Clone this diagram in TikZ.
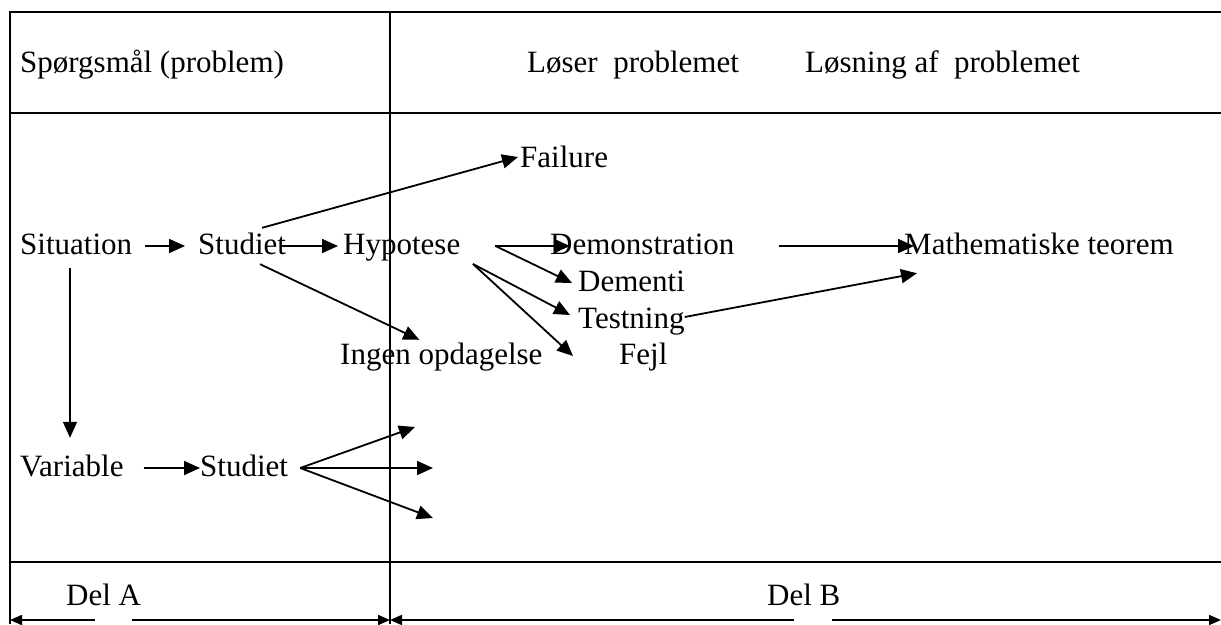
\documentclass[tikz,border=0pt]{standalone}
\usepackage{fontspec}
\setmainfont{Liberation Serif}
\usetikzlibrary{arrows.meta}

\tikzset{
  lbl/.style={anchor=base west, inner sep=0pt, text height=22pt, text depth=6pt},
  arr/.style={line width=1.8pt, -{Triangle[length=16pt,width=14pt]}},
  barr/.style={line width=1.8pt, -{Triangle[length=12pt,width=10pt]}},
  frame/.style={line width=1.8pt}
}

\begin{document}
\begin{tikzpicture}[x=1pt, y=-1pt, font=\fontsize{31}{36}\selectfont]
\useasboundingbox (0,0) rectangle (1221,624);

% Frame
\draw[frame] (10,624) -- (10,12) -- (1221,12);
\draw[frame] (10,113) -- (1221,113);
\draw[frame] (10,562) -- (1221,562);
\draw[line width=1.3pt] (390,12) -- (390,624);

% Header
\node[lbl] (q) at (20,72) {Spørgsmål (problem)};
\node[lbl] (loeser) at (527,72) {Løser~~problemet};
\node[lbl] (losning) at (805,72) {Løsning af~~problemet};

% Labels
\node[lbl] (failure) at (520,167) {Failure};
\node[lbl] (situation) at (20,254) {Situation};
\node[lbl] (studietA) at (198,254) {Studiet};
\node[lbl] (hypotese) at (343,254) {Hypotese};
\node[lbl] (demo) at (550,254) {Demonstration};
\node[lbl] (math) at (904,254) {Mathematiske teorem};
\node[lbl] (dementi) at (578,291) {Dementi};
\node[lbl] (testning) at (578,328) {Testning};
\node[lbl] (ingen) at (340,364) {Ingen opdagelse};
\node[lbl] (fejl) at (619,364) {Fejl};
\node[lbl] (variable) at (20,476) {Variable};
\node[lbl] (studietB) at (200,476) {Studiet};
\node[lbl] (delA) at (66,605) {Del A};
\node[lbl] (delB) at (767,605) {Del B};

% Free ends
\coordinate (hfork) at ([xshift=35pt]hypotese.east);
\coordinate (hlow) at (473,264);
\coordinate (sitdown) at (70,268);
\coordinate (sfork) at ([xshift=12pt]studietB.east);
\coordinate (out1) at (415,427);
\coordinate (out2) at (433,468);
\coordinate (out3) at (433,518);

% Upper arrows
\draw[arr, shorten <=13pt, shorten >=13pt] (situation) -- (studietA);
\draw[arr, shorten <=-4pt, shorten >=5pt] (studietA) -- (hypotese);
\draw[arr] ([xshift=20pt,yshift=4pt]studietA.north) -- ([xshift=-2pt,yshift=2pt]failure.west);
\draw[arr] ([xshift=18pt,yshift=-4pt]studietA.south) -- ([xshift=-22pt,yshift=2pt]ingen.north);
\draw[arr] (hfork) -- ([xshift=20pt]demo.west);
\draw[arr] (hfork) -- ([xshift=-6pt]dementi.west);
\draw[arr] (hlow) -- ([xshift=-8pt,yshift=5pt]testning.west);
\draw[arr] (hlow) -- ([xshift=-46pt]fejl.west);
\draw[arr] ([xshift=44pt]demo.east) -- ([xshift=10pt]math.west);
\draw[arr] ([yshift=3pt]testning.east) -- ([xshift=13pt,yshift=-13pt]math.south west);

% Lower arrows
\draw[arr, shorten >=16pt] (sitdown) -- (sitdown |- variable.north);
\draw[arr, shorten <=20pt] (variable) -- (studietB);
\foreach \o in {out1,out2,out3}
  \draw[arr] (sfork) -- (\o);

% Del A / Del B
\draw[barr] (95,620) -- (10,620);
\draw[barr] (132,620) -- (390,620);
\draw[barr] (794,620) -- (390,620);
\draw[barr] (832,620) -- (1221,620);

\end{tikzpicture}
\end{document}
